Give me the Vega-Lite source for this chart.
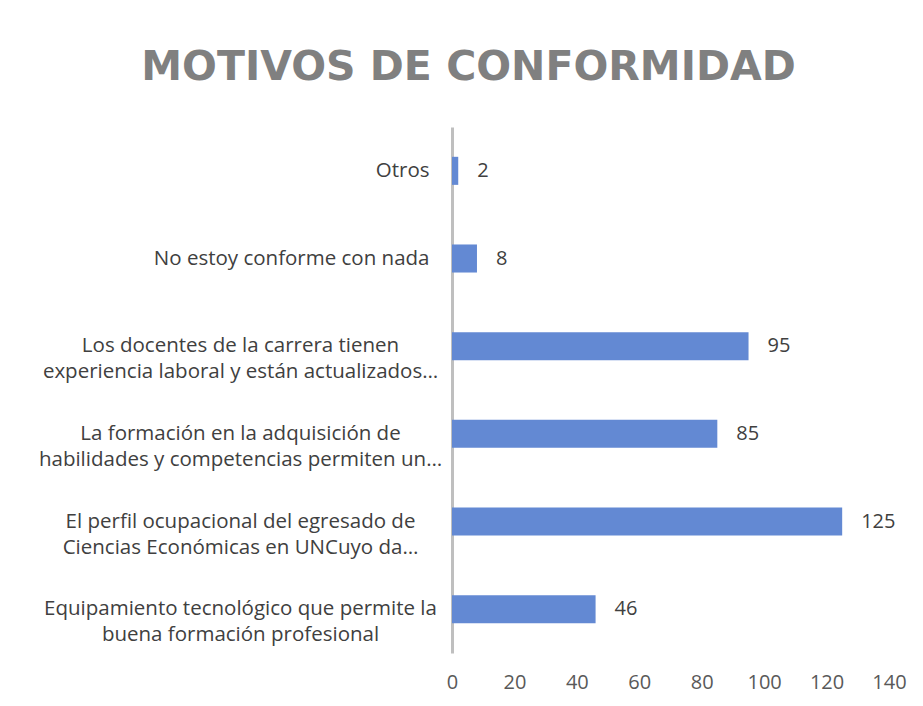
{
  "$schema": "https://vega.github.io/schema/vega-lite/v6.json",
  "width": 437,
  "height": 526,
  "autosize": {"type": "none"},
  "padding": {"left": 452, "top": 127, "right": 34, "bottom": 53},
  "background": "white",
  "title": {
    "text": "MOTIVOS DE CONFORMIDAD",
    "font": "DejaVu Sans",
    "fontSize": 41,
    "fontWeight": "bold",
    "color": "#808080",
    "anchor": "middle",
    "baseline": "alphabetic",
    "offset": 6,
    "dx": -202,
    "limit": 900
  },
  "config": {
    "view": {"stroke": null},
    "font": "Open Sans"
  },
  "data": {
    "values": [
      {"motivo": "Otros", "cantidad": 2},
      {"motivo": "No estoy conforme con nada", "cantidad": 8},
      {"motivo": "Los docentes de la carrera tienen\nexperiencia laboral y están actualizados…", "cantidad": 95},
      {"motivo": "La formación en la adquisición de\nhabilidades y competencias permiten un…", "cantidad": 85},
      {"motivo": "El perfil ocupacional del egresado de\nCiencias Económicas en UNCuyo da…", "cantidad": 125},
      {"motivo": "Equipamiento tecnológico que permite la\nbuena formación profesional", "cantidad": 46}
    ]
  },
  "encoding": {
    "y": {
      "field": "motivo",
      "type": "nominal",
      "sort": null,
      "scale": {"paddingInner": 0.68, "paddingOuter": 0.34},
      "axis": {
        "title": null,
        "ticks": false,
        "domainColor": "#bfbfbf",
        "domainWidth": 3,
        "labelFont": "Open Sans",
        "labelFontSize": 20.5,
        "labelColor": "#404040",
        "labelLineHeight": 26,
        "labelLimit": 500,
        "labelExpr": "split(datum.label, '\\n')",
        "labelAlign": {"condition": {"test": "indexof(datum.value, '\\n') >= 0", "value": "center"}, "value": "right"},
        "labelPadding": {"condition": {"test": "indexof(datum.value, '\\n') >= 0", "value": 212}, "value": 23}
      }
    },
    "x": {
      "field": "cantidad",
      "type": "quantitative",
      "scale": {"domain": [0, 140], "nice": false},
      "axis": {
        "title": null,
        "values": [0, 20, 40, 60, 80, 100, 120, 140],
        "grid": false,
        "domain": false,
        "ticks": false,
        "labelFont": "Open Sans",
        "labelFontSize": 20,
        "labelColor": "#595959",
        "labelPadding": 19,
        "labelFlush": false
      }
    }
  },
  "layer": [
    {"mark": {"type": "bar", "color": "#6389d3"}},
    {
      "mark": {"type": "text", "align": "left", "baseline": "middle", "dx": 19, "fontSize": 20, "font": "Open Sans", "color": "#404040"},
      "encoding": {"text": {"field": "cantidad", "type": "quantitative"}}
    }
  ]
}
